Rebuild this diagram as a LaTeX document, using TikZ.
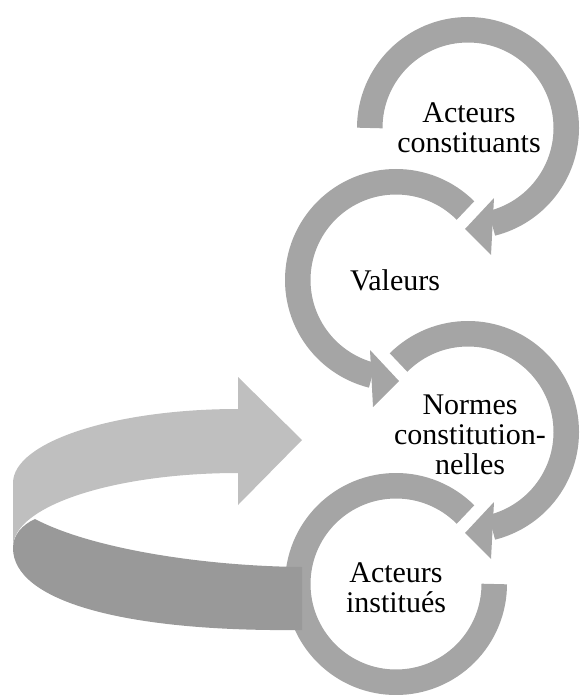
\documentclass[tikz,border=0pt]{standalone}
\usepackage{fontspec}
\setmainfont{Liberation Serif}
\usetikzlibrary{calc}
\definecolor{ringgray}{HTML}{A5A5A5}
\definecolor{bandlight}{HTML}{BFBFBF}
\definecolor{banddark}{HTML}{999999}
\begin{document}
\begin{tikzpicture}[x=1pt,y=1pt,
  ringarc/.style={draw=ringgray, line width=25.5pt},
  headfill/.style={fill=ringgray},
  lbl/.style={font=\fontsize{30}{30}\selectfont, align=center, text=black, inner sep=0pt}]
\useasboundingbox (0,0) rectangle (579,-695);
\coordinate (c1) at (468,-128);
\coordinate (c2) at (396,-280);
\coordinate (c3) at (468,-432);
\coordinate (c4) at (396,-584);
% circle 1
\draw[ringarc] (c1) ++(180:98.25) arc[start angle=180, end angle=-76, radius=98.25];
\fill[headfill] ($(c1)+(26,-70)$) -- ($(c1)+(-3,-101)$) -- ($(c1)+(23,-127)$) -- cycle;
% circle 2
\draw[ringarc] (c2) ++(45:98.25) arc[start angle=45, end angle=256, radius=98.25];
\fill[headfill] ($(c2)+(-26,-70)$) -- ($(c2)+(3,-101)$) -- ($(c2)+(-23,-127)$) -- cycle;
% circle 3
\draw[ringarc] (c3) ++(135:98.25) arc[start angle=135, end angle=-76, radius=98.25];
\fill[headfill] ($(c3)+(26,-70)$) -- ($(c3)+(-3,-101)$) -- ($(c3)+(23,-127)$) -- cycle;
% circle 4
\draw[ringarc] (c4) ++(45:98.25) arc[start angle=45, end angle=360, radius=98.25];
% big return arrow
\fill[bandlight] (238,-409) -- (238,-377) -- (302,-440) -- (238,-505) -- (238,-473)
  .. controls (114,-473) and (13,-506) .. (13,-547) -- (13,-483)
  .. controls (13,-442) and (114,-409) .. (238,-409) -- cycle;
\fill[banddark] (302,-567) .. controls (200,-566) and (90,-548) .. (35,-519)
  .. controls (22,-525) and (13,-535) .. (13,-548)
  .. controls (13,-600) and (120,-632) .. (302,-630) -- cycle;
% labels
\node[lbl] (t1) at (469,-128) {Acteurs\\constituants};
\node[lbl] (t2) at (395,-280) {Valeurs};
\node[lbl] (t3) at (470,-435) {Normes\\constitution-\\nelles};
\node[lbl] (t4) at (396,-588) {Acteurs\\institués};
\end{tikzpicture}
\end{document}
